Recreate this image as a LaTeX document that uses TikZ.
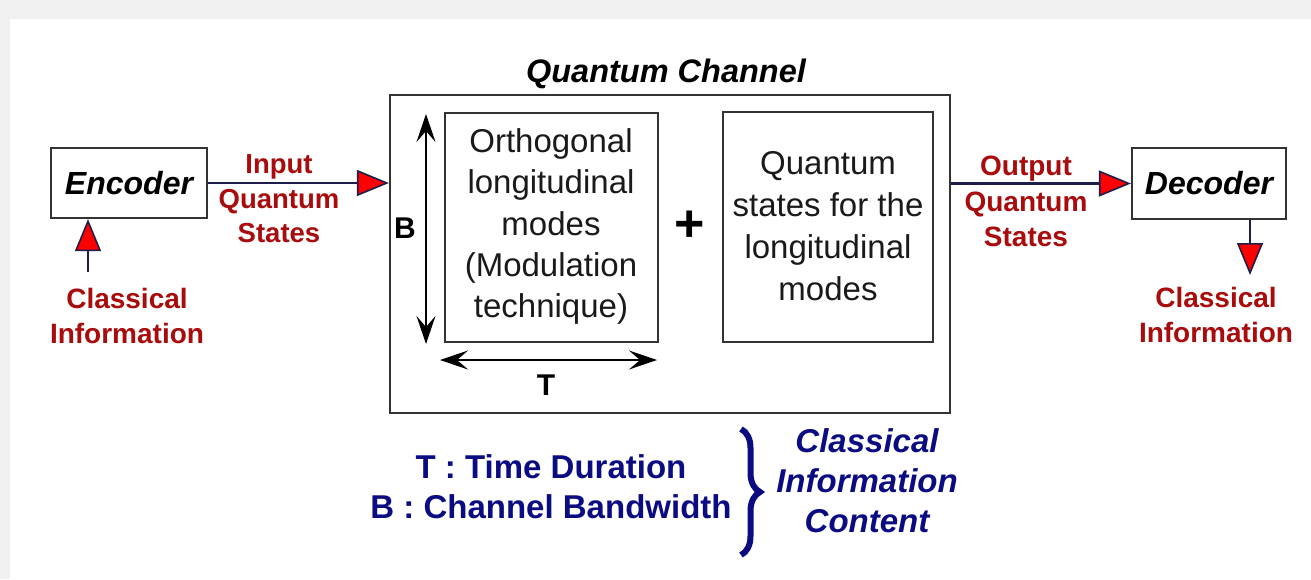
\documentclass[tikz,border=0pt]{standalone}
\usepackage{fontspec}
\setmainfont{Liberation Sans}
\usetikzlibrary{arrows.meta,decorations.pathreplacing}
\definecolor{bggray}{HTML}{F0F0F0}
\definecolor{darkred}{HTML}{A80C0C}
\definecolor{navytxt}{HTML}{0C0C82}
\definecolor{connline}{HTML}{1E1E4A}
\definecolor{boxline}{HTML}{333333}
\definecolor{txtgray}{HTML}{1A1A1A}
\tikzset{
  blockbox/.style={draw=boxline, line width=2.2pt, inner sep=0pt},
  bigital/.style={font=\fontsize{32}{38}\selectfont\bfseries\itshape, text=black},
  redlbl/.style={font=\fontsize{27.5}{34.5}\selectfont\bfseries, text=darkred, align=center, inner sep=0pt},
  innertxt/.style={font=\fontsize{33}{41.3}\selectfont, text=txtgray, align=center, inner sep=0pt},
  conn/.style={draw=connline, line width=2.4pt, -{Triangle[length=32pt,width=26pt,fill=red,line width=1.6pt]}},
  dim/.style={draw=black, line width=2pt, {Stealth[length=28pt,width=19pt,inset=11pt]}-{Stealth[length=28pt,width=19pt,inset=11pt]}},
  navylbl/.style={font=\fontsize{33}{40}\selectfont\bfseries, text=navytxt, align=center, inner sep=0pt},
}
\begin{document}
\begin{tikzpicture}[x=1pt,y=-1pt]
\fill[bggray] (0,0) rectangle (1311,579);
\fill[white] (10,19) rectangle (1311,579);
\useasboundingbox (0,0) rectangle (1311,579);

% boxes
\node[blockbox, minimum width=156pt, minimum height=70pt, bigital] (enc) at (129,183) {Encoder};
\node[blockbox, minimum width=154pt, minimum height=71pt, bigital] (dec) at (1209,183.5) {Decoder};
\node[blockbox, minimum width=560pt, minimum height=318pt] (chan) at (670,254) {};
\node[bigital, inner sep=0pt, font=\fontsize{32.5}{38}\selectfont\bfseries\itshape] (chanlbl) at (666,74) {Quantum Channel};
\node[blockbox, minimum width=213pt, minimum height=229pt] (ortho) at (551.5,227.5) {};
\node[innertxt] (orthotxt) at (551,226.5) {Orthogonal\\longitudinal\\modes\\(Modulation\\technique)};
\node[blockbox, minimum width=210pt, minimum height=230pt] (qst) at (828,227) {};
\node[innertxt, font=\fontsize{33}{42}\selectfont] (qsttxt) at (828,226.5) {Quantum\\states for the\\longitudinal\\modes};
\node[font=\fontsize{52}{52}\selectfont\bfseries, inner sep=0pt] (plus) at (690,226) {+};

% dimension arrows
\coordinate (btop) at (426,114);
\coordinate (bbot) at (426,344);
\draw[dim] (btop) -- (bbot);
\node[font=\fontsize{30}{30}\selectfont\bfseries, inner sep=0pt] (blbl) at (405,228) {B};
\coordinate (tleft) at (440,360);
\coordinate (tright) at (657,360);
\draw[dim] (tleft) -- (tright);
\node[font=\fontsize{30}{30}\selectfont\bfseries, inner sep=0pt] (tlbl) at (546,385) {T};

% connectors
\draw[conn] (enc.east) -- (enc.east -| chan.west);
\node[redlbl] (inlbl) at (279,199) {Input\\Quantum\\States};
\coordinate (ciin) at (88,272);
\draw[conn] (ciin) -- (ciin |- enc.south);
\node[redlbl, font=\fontsize{28}{35}\selectfont\bfseries] (cilbl) at (127,315.5) {Classical\\Information};
\draw[conn] (chan.east |- dec.west) -- (dec.west);
\node[redlbl, font=\fontsize{28}{35.5}\selectfont\bfseries] (outlbl) at (1026,201.5) {Output\\Quantum\\States};
\coordinate (ciout) at (1250,275);
\draw[conn] (ciout |- dec.south) -- (ciout);
\node[redlbl, font=\fontsize{28}{35}\selectfont\bfseries] (colbl) at (1216,314.5) {Classical\\Information};

% legend
\node[navylbl] (legend) at (551,487) {T : Time Duration\\B : Channel Bandwidth};
\coordinate (brtop) at (741,429);
\coordinate (brbot) at (741,555);
\draw[navytxt, line width=6pt, decorate, decoration={brace, amplitude=19pt}] (brtop) -- (brbot);
\node[navylbl, font=\fontsize{33}{40}\selectfont\bfseries\itshape] (cic) at (867,481) {Classical\\Information\\Content};
\end{tikzpicture}
\end{document}
